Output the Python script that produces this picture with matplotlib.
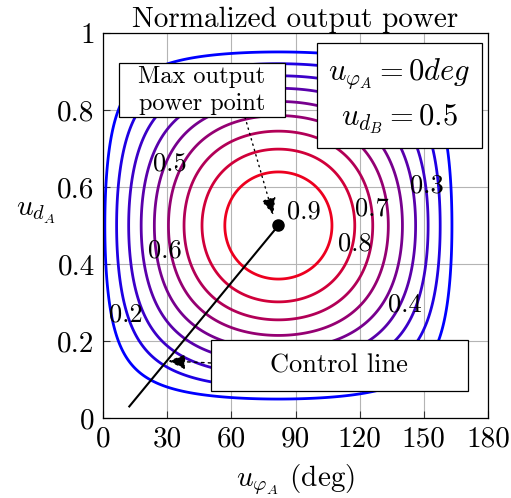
import numpy as np
import matplotlib
matplotlib.use("Agg")
import matplotlib.pyplot as plt
from matplotlib.colors import LinearSegmentedColormap
from matplotlib.patches import Rectangle

plt.rcParams["font.family"] = "cmr10"
plt.rcParams["mathtext.fontset"] = "cm"
plt.rcParams["axes.formatter.use_mathtext"] = True

# Contour levels of the normalized output power
levels = [0.1, 0.2, 0.3, 0.4, 0.5, 0.6, 0.7, 0.8, 0.9]

# Inline level labels: value and where it is written
label_levels = [0.2, 0.3, 0.4, 0.5, 0.6, 0.7, 0.8, 0.9]
label_phase = [10.8, 151.5, 141.2, 31.3, 29.0, 125.8, 117.8, 94.0]
label_duty = [0.268, 0.603, 0.294, 0.660, 0.434, 0.545, 0.452, 0.535]

# Power model: peak location and loss offset
peak_phase = 82.0      # deg
peak_duty = 0.5
loss_offset = 0.06

# Control line start point (ends at the maximum power point)
control_phase_start = 12.3
control_duty_start = 0.03

x_ticks = [0, 30, 60, 90, 120, 150, 180]
y_ticks = [0, 0.2, 0.4, 0.6, 0.8, 1.0]

phi = np.linspace(0, 180, 721)
duty = np.linspace(0, 1, 401)
PHI, DUTY = np.meshgrid(phi, duty)
raw = np.cos(np.radians(PHI - peak_phase)) * np.sin(np.pi * DUTY)
power = (raw - loss_offset) / (1 - loss_offset)

cmap = LinearSegmentedColormap.from_list("bluered", [(0, 0, 1), (0.93, 0, 0.12)])

fig = plt.figure(figsize=(5.11, 4.98), dpi=100)
ax = fig.add_axes([103 / 511, 80 / 498, 385 / 511, 385 / 498])

ax.contour(PHI, DUTY, power, levels=levels, cmap=cmap,
           vmin=levels[0], vmax=levels[-1], linewidths=2.0, zorder=2)

for lv, lx, ly in zip(label_levels, label_phase, label_duty):
    ax.text(lx, ly, f"{lv:g}", fontsize=19, ha="center", va="center", zorder=4)

# Control line and maximum power point
ax.plot([control_phase_start, peak_phase], [control_duty_start, peak_duty],
        color="k", lw=1.5, zorder=5)
ax.plot([peak_phase], [peak_duty], "o", color="k", ms=8, zorder=6)

# Annotation boxes
def box(x0, x1, y0, y1):
    ax.add_patch(Rectangle((x0, y0), x1 - x0, y1 - y0, facecolor="white",
                           edgecolor="black", lw=0.9, zorder=7))

box(7.6, 85.1, 0.781, 0.921)
ax.text(46.3, 0.851, "Max output\npower point", fontsize=17.5, ha="center",
        va="center", linespacing=1.3, zorder=8)
ax.annotate("", xy=(79.6, 0.527), xytext=(66.4, 0.781),
            arrowprops=dict(arrowstyle="-|>,head_length=0.7,head_width=0.3",
                            linestyle=(0, (1, 3)), color="k", lw=1.0,
                            shrinkA=0, shrinkB=0, mutation_scale=15),
            zorder=6)

box(50.5, 170.5, 0.071, 0.2026)
ax.text(110.5, 0.137, "Control line", fontsize=19, ha="center", va="center",
        zorder=8)
ax.annotate("", xy=(30.4, 0.148), xytext=(50.5, 0.143),
            arrowprops=dict(arrowstyle="-|>,head_length=0.7,head_width=0.3",
                            linestyle=(0, (2, 3)), color="k", lw=1.0,
                            shrinkA=0, shrinkB=0, mutation_scale=15),
            zorder=6)

box(99.9, 177.3, 0.7005, 0.975)
ax.text(138.6, 0.894, r"$u_{\varphi_A} = 0deg$", fontsize=22, ha="center",
        va="center", zorder=8)
ax.text(138.6, 0.777, r"$u_{d_B} = 0.5$", fontsize=22, ha="center",
        va="center", zorder=8)

ax.set_xlim(0, 180)
ax.set_ylim(0, 1)
ax.set_xticks(x_ticks)
ax.set_xticklabels([f"{v:g}" for v in x_ticks])
ax.set_yticks(y_ticks)
ax.set_yticklabels([f"{v:g}" for v in y_ticks])
ax.grid(True, color="#b4b4b4", lw=0.8)
ax.set_axisbelow(True)
ax.tick_params(direction="in", length=5, width=0.8, labelsize=21, pad=6,
               color="#333333")
for s in ax.spines.values():
    s.set_linewidth(0.9)

ax.set_title("Normalized output power", fontsize=21, pad=4)
ax.set_xlabel(r"$u_{\varphi_A}$ (deg)", fontsize=21, labelpad=7)
ax.set_ylabel(r"$u_{d_A}$", fontsize=21, rotation=0)
ax.yaxis.set_label_coords(-0.175, 0.50)

fig.savefig("out.png", dpi=100)
